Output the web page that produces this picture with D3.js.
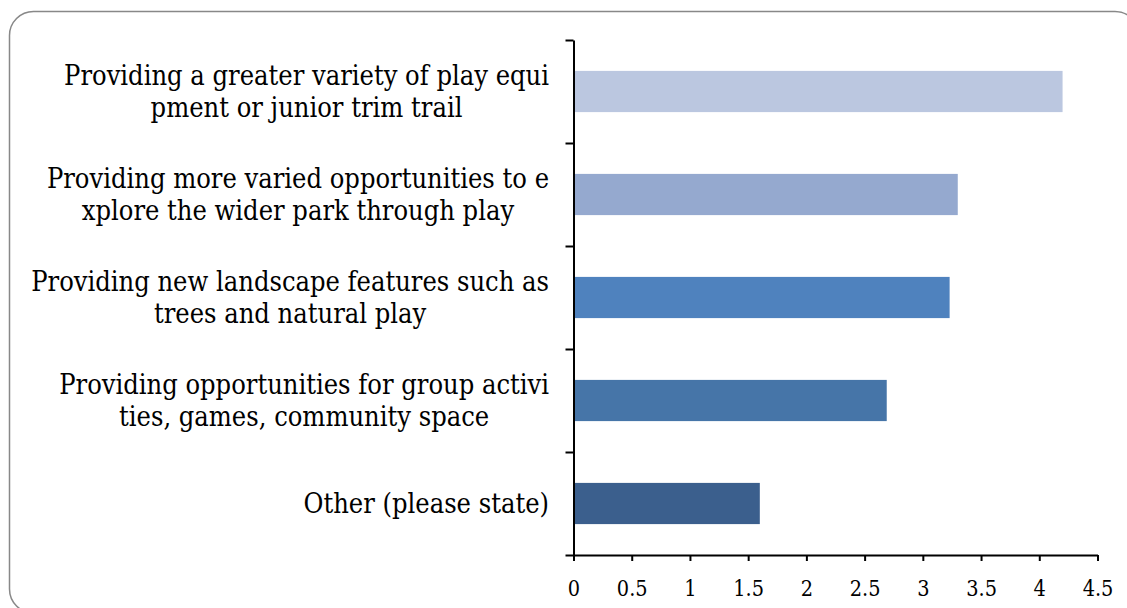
<!DOCTYPE html>
<html>
<head>
<meta charset="utf-8">
<script src="https://cdn.jsdelivr.net/npm/d3@7"></script>
<style>
  html, body { margin: 0; padding: 0; background: #fff; }
  svg { display: block; }
  .lbl, .tick text { font-family: "DejaVu Serif Condensed", "DejaVu Serif", serif; font-stretch: condensed; fill: #000; }
</style>
</head>
<body>
<svg id="chart" width="1127" height="608"></svg>
<script>
const categories = [
  ["Providing a greater variety of play equi", "pment or junior trim trail"],
  ["Providing more varied opportunities to e", "xplore the wider park through play"],
  ["Providing new landscape features such as", "trees and natural play"],
  ["Providing opportunities for group activi", "ties, games, community space"],
  ["Other (please state)"]
];
const values = [4.2, 3.3, 3.23, 2.69, 1.6];
const barColors = ["#BBC7E0", "#95A9CF", "#4F82BE", "#4675A8", "#3B5F8D"];
const xTicks = [0, 0.5, 1, 1.5, 2, 2.5, 3, 3.5, 4, 4.5];

(function () {
const svg = d3.select("#chart");

// frame
svg.append("rect")
  .attr("x", 9.5).attr("y", 11.5)
  .attr("width", 1129.5).attr("height", 601.5)
  .attr("rx", 24).attr("ry", 24)
  .attr("fill", "#fff").attr("stroke", "#888").attr("stroke-width", 1.5);

const pLeft = 573.5, pRight = 1097.5, pTop = 40, pBottom = 555;

const x = d3.scaleLinear().domain([0, 4.5]).range([pLeft, pRight]);
const idx = d3.range(categories.length);
const y = d3.scaleBand().domain(idx).range([pTop, pBottom]).paddingInner(0.6).paddingOuter(0.3);
const yBound = d3.scaleLinear().domain([0, categories.length]).range([pTop, pBottom]);

// bars
svg.append("g").selectAll("rect").data(idx).join("rect")
  .attr("x", x(0))
  .attr("y", i => y(i))
  .attr("width", i => x(values[i]) - x(0))
  .attr("height", y.bandwidth())
  .attr("fill", i => barColors[i]);

// y axis (category boundaries)
const yAxis = svg.append("g")
  .attr("transform", `translate(${pLeft},0)`)
  .call(d3.axisLeft(yBound).tickValues(d3.range(categories.length + 1)).tickSize(8).tickSizeOuter(0).tickFormat(""));
yAxis.select(".domain").attr("stroke", "#000").attr("stroke-width", 2);
yAxis.selectAll(".tick line").attr("stroke", "#000").attr("stroke-width", 2);

// x axis
const xAxis = svg.append("g")
  .attr("transform", `translate(0,${pBottom})`)
  .call(d3.axisBottom(x).tickValues(xTicks).tickSize(6).tickSizeOuter(0).tickPadding(20).tickFormat(d3.format("")));
xAxis.select(".domain").attr("stroke", "#000").attr("stroke-width", 2);
xAxis.selectAll(".tick line").attr("stroke", "#000").attr("stroke-width", 2);
xAxis.selectAll(".tick text").attr("font-size", 21.5).attr("fill", "#000");

// category labels
const labelRight = 549, lineH = 32, fs = 27, capH = 19;
idx.forEach(i => {
  const lines = categories[i];
  const g = svg.append("g");
  const texts = lines.map(l => g.append("text").attr("class", "lbl")
    .attr("font-size", fs).attr("text-anchor", "middle").text(l));
  const w = d3.max(texts, t => t.node().getComputedTextLength());
  const cy = y(i) + y.bandwidth() / 2;
  texts.forEach((t, j) => {
    t.attr("x", labelRight - w / 2)
     .attr("y", cy + capH / 2 + (j - (lines.length - 1) / 2) * lineH);
  });
});
})();
</script>
</body>
</html>
